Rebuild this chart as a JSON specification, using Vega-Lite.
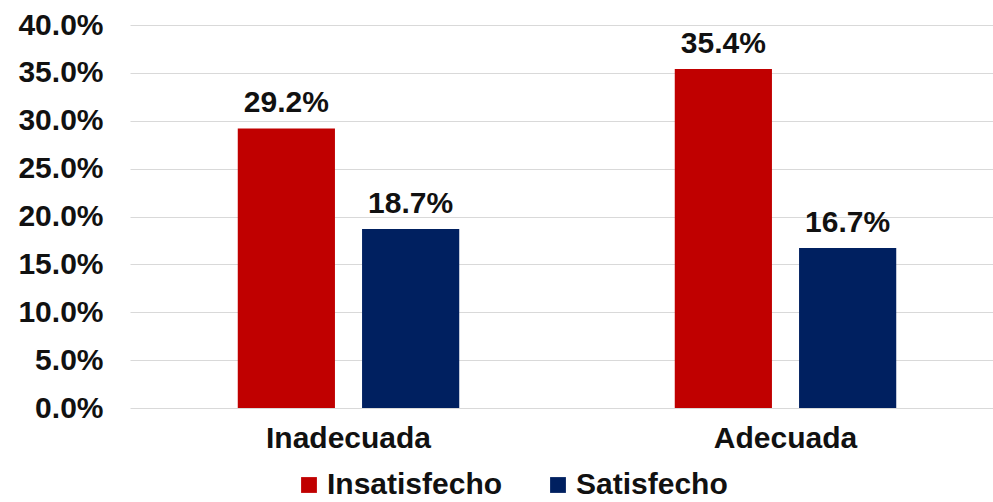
{
  "$schema": "https://vega.github.io/schema/vega-lite/v6.json",
  "autosize": "none",
  "padding": {"left": 130, "top": 25, "right": 0, "bottom": 94},
  "width": 874,
  "height": 383,
  "config": {
    "view": {"stroke": null},
    "font": "Liberation Sans",
    "text": {"font": "Liberation Sans"}
  },
  "data": {
    "values": [
      {"grupo": "Inadecuada", "estado": "Insatisfecho", "valor": 0.292},
      {"grupo": "Inadecuada", "estado": "Satisfecho", "valor": 0.187},
      {"grupo": "Adecuada", "estado": "Insatisfecho", "valor": 0.354},
      {"grupo": "Adecuada", "estado": "Satisfecho", "valor": 0.167}
    ]
  },
  "encoding": {
    "x": {
      "field": "grupo",
      "type": "nominal",
      "sort": ["Inadecuada", "Adecuada"],
      "scale": {"paddingInner": 0, "paddingOuter": 0},
      "axis": {
        "title": null,
        "labelAngle": 0,
        "labelFontSize": 30,
        "labelFontWeight": "bold",
        "labelColor": "#111111",
        "labelPadding": 15,
        "ticks": false,
        "domain": false
      }
    },
    "xOffset": {
      "field": "estado",
      "type": "nominal",
      "sort": ["Insatisfecho", "Satisfecho"],
      "scale": {"paddingInner": 0.218, "paddingOuter": 0.867}
    },
    "y": {
      "field": "valor",
      "type": "quantitative",
      "scale": {"domain": [0, 0.4], "nice": false},
      "axis": {
        "title": null,
        "format": ".1%",
        "values": [0, 0.05, 0.1, 0.15, 0.2, 0.25, 0.3, 0.35, 0.4],
        "labelFontSize": 30,
        "labelFontWeight": "bold",
        "labelColor": "#111111",
        "labelPadding": 27,
        "ticks": false,
        "domain": false,
        "gridColor": "#d9d9d9",
        "gridWidth": 1
      }
    }
  },
  "layer": [
    {
      "mark": {"type": "bar"},
      "encoding": {
        "color": {
          "field": "estado",
          "type": "nominal",
          "sort": ["Insatisfecho", "Satisfecho"],
          "scale": {"domain": ["Insatisfecho", "Satisfecho"], "range": ["#C00000", "#002060"]},
          "legend": {
            "title": null,
            "orient": "none",
            "direction": "horizontal",
            "legendX": 164,
            "legendY": 445,
            "symbolType": "square",
            "symbolSize": 250,
            "symbolStrokeWidth": 0,
            "labelFontSize": 30,
            "labelFontWeight": "bold",
            "labelColor": "#111111",
            "labelLimit": 400,
            "columnPadding": 40,
            "labelOffset": 3
          }
        }
      }
    },
    {
      "mark": {"type": "text", "dy": -25, "fontSize": 30, "fontWeight": "bold", "color": "#111111"},
      "encoding": {
        "text": {"field": "valor", "type": "quantitative", "format": ".1%"}
      }
    }
  ]
}
